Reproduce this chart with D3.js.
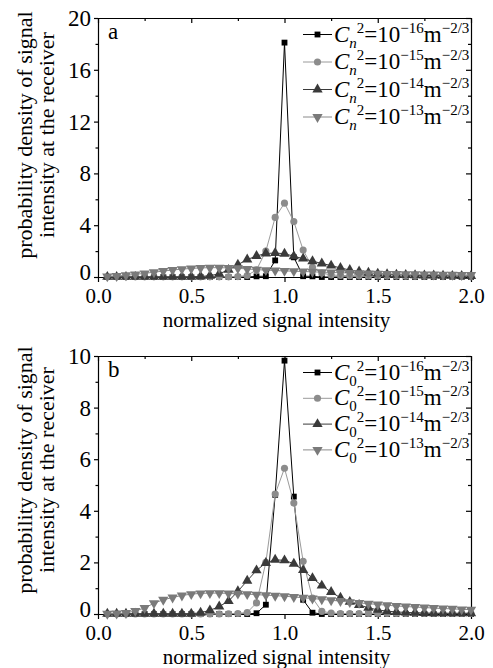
<!DOCTYPE html>
<html>
<head>
<meta charset="utf-8">
<script src="https://cdn.jsdelivr.net/npm/d3@7/dist/d3.min.js"></script>
<style>
  body { margin: 0; background: #fff; }
  svg { display: block; font-family: "Liberation Serif", "DejaVu Serif", serif; }
  .axis path, .axis line { stroke: #000; stroke-width: 1.2; }
  .axis text { font-family: "Liberation Serif", serif; fill: #000; }
</style>
</head>
<body>
<svg id="chart" width="493" height="668"></svg>
<script>
// x positions of the samples (normalized signal intensity)
const xs = [0.05,0.10,0.15,0.20,0.25,0.30,0.35,0.40,0.45,0.50,
            0.55,0.60,0.65,0.70,0.75,0.80,0.85,0.90,0.95,1.00,
            1.05,1.10,1.15,1.20,1.25,1.30,1.35,1.40,1.45,1.50,
            1.55,1.60,1.65,1.70,1.75,1.80,1.85,1.90,1.95,2.00];

// panel a : Cn^2
const sqA = [0,0,0,0,0,0,0,0,0,0,0,0,0,0,0,0,
             0.05,0.06,1.28,18.1,1.52,0.06,0.05,
             0,0,0,0,0,0,0,0,0,0,0,0,0,0,0,0,0];
const circA = [0.01,0.01,0.01,0.01,0.01,0.01,0.01,0.01,0.01,0.01,0.01,0.01,0.01,0.01,
               0.03,0.12,0.55,2.0,4.6,5.7,4.28,2.08,0.75,0.3,0.16,0.12,0.1,0.09,0.08,0.08,
               0.07,0.07,0.06,0.06,0.05,0.05,0.05,0.04,0.04,0.04];
const triA = [0.01,0.01,0.01,0.01,0.01,0.01,0.01,0.01,0.01,0.01,
              0.04,0.1,0.25,0.55,0.95,1.35,1.62,1.82,1.85,1.8,
              1.6,1.42,1.22,1.05,0.88,0.7,0.54,0.42,0.33,0.26,
              0.21,0.18,0.15,0.13,0.12,0.11,0.1,0.09,0.08,0.08];
const dtriA = [0.05,0.08,0.13,0.2,0.28,0.37,0.46,0.54,0.61,0.66,
               0.7,0.72,0.72,0.7,0.67,0.62,0.57,0.53,0.5,0.47,
               0.45,0.42,0.4,0.37,0.35,0.33,0.31,0.29,0.27,0.26,
               0.24,0.23,0.22,0.21,0.2,0.19,0.18,0.17,0.16,0.15];

// panel b : C0^2
const sqB = [0,0,0,0,0,0,0,0,0,0,0,0,0,0,0,0,
             0.03,0.36,4.62,9.82,4.55,0.55,0.05,
             0,0,0,0,0,0,0,0,0,0,0,0,0,0,0,0,0];
const circB = [0,0,0,0,0,0,0,0,0,0,0,0,0,
               0.01,0.02,0.06,0.43,2.0,4.65,5.65,4.3,2.04,0.62,0.1,0.04,
               0.02,0.02,0.02,0.02,0.02,0.02,0.02,0.02,0.02,0.02,0.02,0.02,0.02,0.02,0.02];
const triB = [0.01,0.01,0.01,0.01,0.01,0.01,0.01,0.01,0.01,0.01,
              0.05,0.14,0.29,0.5,0.88,1.29,1.69,1.98,2.1,2.08,
              1.95,1.7,1.39,1.1,0.85,0.63,0.47,0.35,0.24,0.16,
              0.11,0.08,0.06,0.05,0.04,0.03,0.03,0.03,0.03,0.03];
const dtriB = [0.01,0.02,0.04,0.12,0.23,0.42,0.55,0.64,0.72,0.77,
               0.8,0.81,0.81,0.8,0.79,0.77,0.75,0.73,0.71,0.69,
               0.66,0.63,0.6,0.57,0.53,0.5,0.46,0.43,0.4,0.37,
               0.34,0.31,0.29,0.27,0.25,0.23,0.21,0.2,0.18,0.17];

const exps = ["\u221216", "\u221215", "\u221214", "\u221213"];
const xTicks = [0, 0.5, 1.0, 1.5, 2.0];
const xMinor = [0.25, 0.75, 1.25, 1.75];

const styles = [
  {sym: d3.symbolSquare, size: 34, rot: 0, fill: "#000", line: "#000"},
  {sym: d3.symbolCircle, size: 40, rot: 0, fill: "#8c8c8c", line: "#9a9a9a"},
  {sym: d3.symbolTriangle, size: 46, rot: 0, fill: "#3a3a3a", line: "#3a3a3a"},
  {sym: d3.symbolTriangle, size: 46, rot: 180, fill: "#7a7a7a", line: "#8a8a8a"}
];

const svg = d3.select("#chart");
const L = 98, R = 471;

const panels = [
  {top: 18, bottom: 277, ymax: 20, yTicks: [0,4,8,12,16,20], yMinor: [2,6,10,14,18],
   series: [sqA, circA, triA, dtriA], label: "a", sub: "n", legStep: 27.5, titleY: 135},
  {top: 356, bottom: 614, ymax: 10, yTicks: [0,2,4,6,8,10], yMinor: [1,3,5,7,9],
   series: [sqB, circB, triB, dtriB], label: "b", sub: "0", legStep: 25.8, titleY: 470}
];

panels.forEach(p => {
  const x = d3.scaleLinear().domain([0, 2]).range([L, R]);
  const y = d3.scaleLinear().domain([0, p.ymax]).range([p.bottom, p.top]);
  const g = svg.append("g");

  // axes: outward ticks left/bottom, inward on top/right
  const fmtX = d3.format(".1f");
  g.append("g").attr("class", "axis").attr("transform", `translate(0,${p.bottom})`)
    .call(d3.axisBottom(x).tickValues(xTicks).tickSize(5).tickSizeOuter(0).tickPadding(6.5).tickFormat(fmtX))
    .call(a => a.selectAll("text").style("font-size", "21px"));
  g.append("g").attr("class", "axis").attr("transform", `translate(0,${p.bottom})`)
    .call(d3.axisBottom(x).tickValues(xMinor).tickSize(3).tickSizeOuter(0).tickFormat(""))
    .call(a => a.select(".domain").remove());
  g.append("g").attr("class", "axis").attr("transform", `translate(${L},0)`)
    .call(d3.axisLeft(y).tickValues(p.yTicks).tickSize(4).tickSizeOuter(0).tickPadding(3))
    .call(a => a.selectAll("text").style("font-size", "23px")
      .attr("dy", d => d === 0 ? "0.1em" : "0.33em"));
  g.append("g").attr("class", "axis").attr("transform", `translate(${L},0)`)
    .call(d3.axisLeft(y).tickValues(p.yMinor).tickSize(2.5).tickSizeOuter(0).tickFormat(""))
    .call(a => a.select(".domain").remove());
  g.append("g").attr("class", "axis").attr("transform", `translate(0,${p.top})`)
    .call(d3.axisTop(x).tickValues(xTicks).tickSize(-5).tickSizeOuter(0).tickFormat(""));
  g.append("g").attr("class", "axis").attr("transform", `translate(0,${p.top})`)
    .call(d3.axisTop(x).tickValues(xMinor).tickSize(-3).tickSizeOuter(0).tickFormat(""))
    .call(a => a.select(".domain").remove());
  g.append("g").attr("class", "axis").attr("transform", `translate(${R},0)`)
    .call(d3.axisRight(y).tickValues(p.yTicks).tickSize(-5).tickSizeOuter(0).tickFormat(""));
  g.append("g").attr("class", "axis").attr("transform", `translate(${R},0)`)
    .call(d3.axisRight(y).tickValues(p.yMinor).tickSize(-3).tickSizeOuter(0).tickFormat(""))
    .call(a => a.select(".domain").remove());

  // series
  p.series.forEach((vals, i) => {
    const st = styles[i];
    const pts = xs.map((xv, k) => [xv, vals[k]]);
    g.append("path").datum(pts)
      .attr("fill", "none").attr("stroke", st.line).attr("stroke-width", 1)
      .attr("d", d3.line().x(d => x(d[0])).y(d => y(d[1])));
    g.selectAll(null).data(pts).enter().append("path")
      .attr("d", d3.symbol().type(st.sym).size(st.size))
      .attr("transform", d => `translate(${x(d[0])},${y(d[1])}) rotate(${st.rot})`)
      .attr("fill", st.fill);
  });

  // panel letter
  g.append("text").attr("x", 108).attr("y", p.top + 21)
    .style("font-size", "23px").text(p.label);

  // legend
  styles.forEach((st, i) => {
    const cy = p.top + 16.5 + i * p.legStep;
    g.append("line").attr("x1", 303).attr("x2", 332).attr("y1", cy).attr("y2", cy)
      .attr("stroke", st.line).attr("stroke-width", 1);
    g.append("path").attr("d", d3.symbol().type(st.sym).size(st.size))
      .attr("transform", `translate(317.5,${cy}) rotate(${st.rot})`).attr("fill", st.fill);
    const t = g.append("text").attr("x", 334).attr("y", cy + 7).style("font-size", "23px");
    t.append("tspan").style("font-style", "italic").text("C");
    t.append("tspan").style("font-style", p.sub === "n" ? "italic" : "normal")
      .style("font-size", "15px").attr("dy", 6).text(p.sub);
    t.append("tspan").style("font-size", "15px").attr("dy", -15).text("2");
    t.append("tspan").attr("dy", 9).text("=10");
    t.append("tspan").style("font-size", "15px").attr("dy", -9).text(exps[i]);
    t.append("tspan").attr("dy", 9).text("m");
    t.append("tspan").style("font-size", "15px").attr("dy", -9).text("\u22122/3");
  });

  // axis titles
  g.append("text").attr("x", (L + R) / 2 - 8).attr("y", p.bottom + 50)
    .attr("text-anchor", "middle").style("font-size", "21px")
    .text("normalized signal intensity");
  const yt = g.append("text").attr("transform", "rotate(-90)")
    .attr("text-anchor", "middle").style("font-size", "22px");
  yt.append("tspan").attr("x", -p.titleY).attr("y", 32).text("probability density of signal");
  yt.append("tspan").attr("x", -p.titleY).attr("y", 54).text("intensity at the receiver");
});
</script>
</body>
</html>
